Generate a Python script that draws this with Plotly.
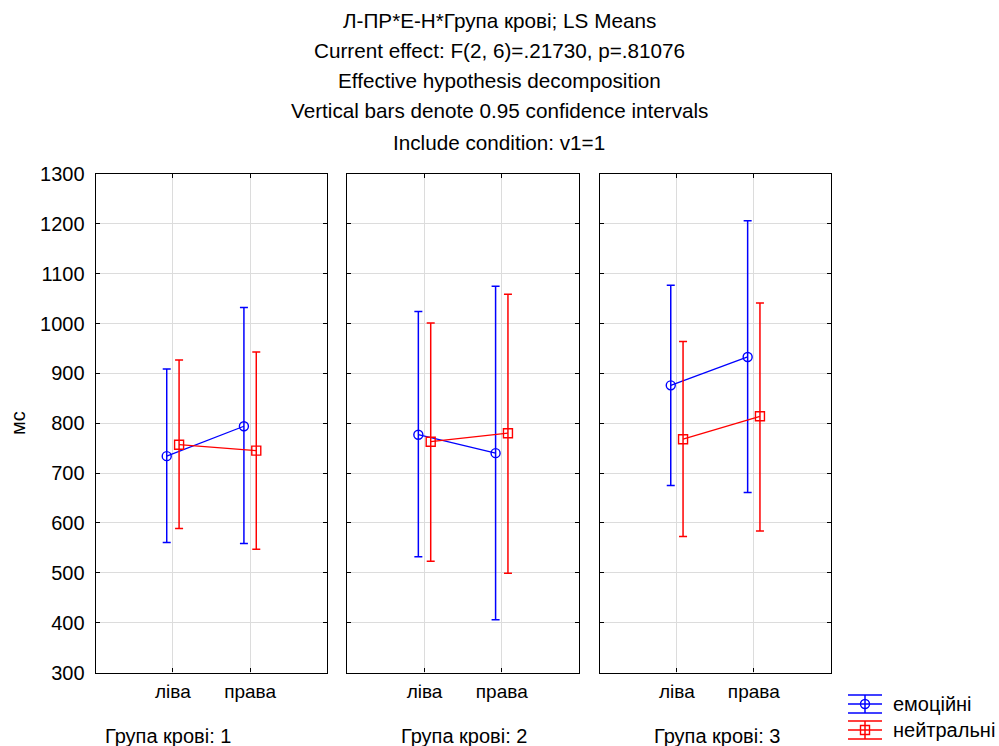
import plotly.graph_objects as go

# ---- data ----
groups = ["Група крові: 1", "Група крові: 2", "Група крові: 3"]
categories = ["ліва", "права"]
series_names = ["емоційні", "нейтральні"]

emo_mean = [[734, 794], [777, 740], [876, 933]]
emo_low = [[561, 559], [532, 406], [675, 661]]
emo_high = [[909, 1032], [1024, 1075], [1077, 1206]]

neu_mean = [[757, 745], [763, 780], [768, 814]]
neu_low = [[589, 547], [523, 499], [573, 584]]
neu_high = [[927, 943], [1001, 1059], [964, 1041]]

y_ticks = [300, 400, 500, 600, 700, 800, 900, 1000, 1100, 1200, 1300]

title_lines = [
    "Л-ПР*Е-Н*Група крові; LS Means",
    "Current effect: F(2, 6)=.21730, p=.81076",
    "Effective hypothesis decomposition",
    "Vertical bars denote 0.95 confidence intervals",
    "Include condition: v1=1",
]

# ---- styling ----
W, H = 999, 746
FONT = "Liberation Sans, Arial, sans-serif"
FS = 20
BLUE = "#0000FF"
RED = "#FF0000"
offset = 0.08

panels_px = [(95.7, 327.3), (347.3, 579.0), (600.0, 830.7)]
top_px, bot_px = 174.0, 672.5

fig = go.Figure()

series = [
    (series_names[0], emo_mean, emo_low, emo_high, BLUE, "circle-open", -offset),
    (series_names[1], neu_mean, neu_low, neu_high, RED, "square-open", offset),
]

for gi in range(len(groups)):
    ax = "" if gi == 0 else str(gi + 1)
    for name, mean, low, high, color, sym, off in series:
        xs = [i + off for i in range(len(categories))]
        m = mean[gi]
        fig.add_trace(go.Scatter(
            x=xs, y=m,
            mode="lines+markers",
            line=dict(color=color, width=1.3),
            marker=dict(symbol=sym, size=9, color=color, line=dict(color=color, width=1.4)),
            error_y=dict(
                type="data", symmetric=False,
                array=[h - v for h, v in zip(high[gi], m)],
                arrayminus=[v - l for v, l in zip(m, low[gi])],
                color=color, thickness=1.5, width=4,
            ),
            name=name, showlegend=False,
            xaxis="x" + ax, yaxis="y" + ax,
        ))

layout = dict(
    width=W, height=H,
    margin=dict(l=0, r=0, t=0, b=0, autoexpand=False),
    paper_bgcolor="white", plot_bgcolor="white",
    font=dict(family=FONT, size=FS, color="black"),
    showlegend=False,
)

y_dom = [1 - bot_px / H, 1 - top_px / H]
for gi, (x0, x1) in enumerate(panels_px):
    ax = "" if gi == 0 else str(gi + 1)
    layout["xaxis" + ax] = dict(
        domain=[x0 / W, x1 / W], range=[-1, 2],
        tickvals=list(range(len(categories))), ticktext=categories,
        showgrid=True, gridcolor="#dcdcdc", gridwidth=1,
        zeroline=False, showline=True, linecolor="black", linewidth=1.3,
        mirror="ticks", ticks="inside", ticklen=4, tickcolor="black",
        tickfont=dict(size=19), anchor="y" + ax, fixedrange=True,
        ticklabelstandoff=2, automargin=False,
    )
    layout["yaxis" + ax] = dict(
        domain=y_dom, range=[300, 1300],
        tickvals=y_ticks, showticklabels=(gi == 0),
        showgrid=True, gridcolor="#dcdcdc", gridwidth=1,
        zeroline=False, showline=True, linecolor="black", linewidth=1.3,
        mirror="ticks", ticks="inside", ticklen=4, tickcolor="black",
        tickfont=dict(size=FS), anchor="x" + ax, fixedrange=True,
        ticklabelstandoff=6, automargin=False,
    )

fig.update_layout(**layout)

annotations = []
title_y = [20, 50, 81, 111, 142]
for line, ty in zip(title_lines, title_y):
    annotations.append(dict(
        text=line, x=499 / W, y=1 - ty / H, xref="paper", yref="paper",
        xanchor="center", yanchor="middle", showarrow=False,
        font=dict(size=20.7, family=FONT),
    ))

annotations.append(dict(
    text="мс", x=18 / W, y=1 - 423 / H, xref="paper", yref="paper",
    xanchor="center", yanchor="middle", textangle=-90, showarrow=False,
    font=dict(size=FS, family=FONT),
))

group_centers = [168, 464, 717]
for g, cx in zip(groups, group_centers):
    annotations.append(dict(
        text=g, x=cx / W, y=1 - 736 / H, xref="paper", yref="paper",
        xanchor="center", yanchor="middle", showarrow=False,
        font=dict(size=FS, family=FONT),
    ))

# legend (drawn manually to show the error-bar glyph)
shapes = []
legend_rows = [(series_names[0], BLUE, "circle", 704), (series_names[1], RED, "rect", 730)]
for name, color, kind, cy in legend_rows:
    for dy in (-9, 0, 9):
        shapes.append(dict(type="line", xref="paper", yref="paper",
                           x0=848 / W, x1=882 / W, y0=1 - (cy + dy) / H, y1=1 - (cy + dy) / H,
                           line=dict(color=color, width=1.5)))
    shapes.append(dict(type="line", xref="paper", yref="paper",
                       x0=865 / W, x1=865 / W, y0=1 - (cy - 9) / H, y1=1 - (cy + 9) / H,
                       line=dict(color=color, width=1.5)))
    shapes.append(dict(type=kind, xref="paper", yref="paper",
                       x0=860.5 / W, x1=869.5 / W, y0=1 - (cy - 4.5) / H, y1=1 - (cy + 4.5) / H,
                       line=dict(color=color, width=1.4), fillcolor="rgba(0,0,0,0)"))
    annotations.append(dict(
        text=name, x=891 / W, y=1 - cy / H, xref="paper", yref="paper",
        xanchor="left", yanchor="middle", showarrow=False,
        font=dict(size=FS, family=FONT),
    ))

fig.update_layout(annotations=annotations, shapes=shapes)

fig.write_html("out.html")
